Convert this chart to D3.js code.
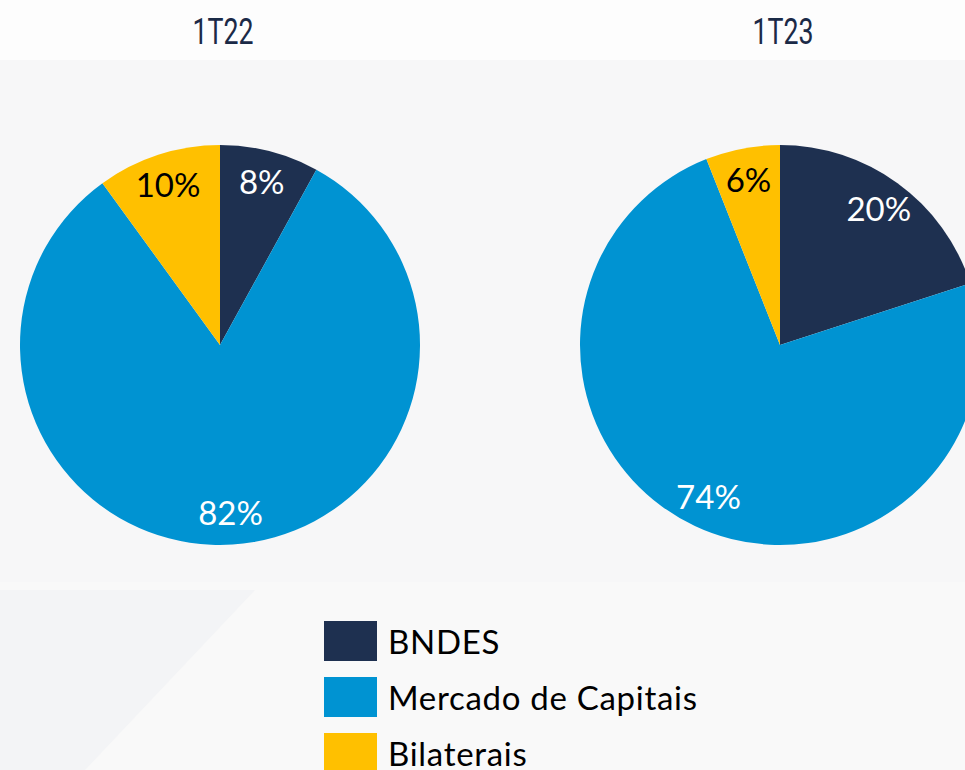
<!DOCTYPE html>
<html>
<head>
<meta charset="utf-8">
<script src="https://cdn.jsdelivr.net/npm/d3@7/dist/d3.min.js"></script>
<style>
html,body{margin:0;padding:0;background:#f7f7f8;overflow:hidden;}
svg{display:block;}
</style>
</head>
<body>
<svg id="chart" width="965" height="770"></svg>
<script>
(function(){
// data
const categories=['BNDES','Mercado de Capitais','Bilaterais'];
const periods=['1T22','1T23'];
const values1T22=[8,82,10];
const values1T23=[20,74,6];
const sliceColors=['#1e3050','#0093d2','#ffc000'];
const labelColors=['#ffffff','#ffffff','#000000'];

const W=965,H=770,R=200;
const svg=d3.select('#chart');

// background: plain light grey, white title band, faint diagonal at bottom left
svg.append('rect').attr('width',W).attr('height',H).attr('fill','#f7f7f8');
svg.append('rect').attr('width',W).attr('height',60).attr('fill','#fdfdfd');
svg.append('rect').attr('y',582).attr('width',W).attr('height',188).attr('fill','#f9f9f9');
svg.append('path').attr('d','M0,590 L255,590 L85,770 L0,770 Z').attr('fill','#f3f4f6');

const x=d3.scalePoint().domain(periods).range([220,780]);
const color=d3.scaleOrdinal().domain(categories).range(sliceColors);
const txtColor=d3.scaleOrdinal().domain(categories).range(labelColors);

const pie=d3.pie().sort(null).value(d=>d.v);
const arc=d3.arc().innerRadius(0).outerRadius(R);
const labelArc=d3.arc().innerRadius(168).outerRadius(168);

[[periods[0],values1T22],[periods[1],values1T23]].forEach(([p,vals])=>{
  const data=categories.map((c,i)=>({c:c,v:vals[i]}));
  const g=svg.append('g').attr('transform',`translate(${x(p)},345)`);
  g.selectAll('path').data(pie(data)).enter().append('path')
    .attr('d',arc).attr('fill',d=>color(d.data.c));
  g.selectAll('text').data(pie(data)).enter().append('text')
    .attr('transform',d=>`translate(${labelArc.centroid(d)})`)
    .attr('text-anchor','middle').attr('dy','0.36em')
    .attr('font-family','Lato, "Open Sans", sans-serif').attr('font-size',33)
    .attr('fill',d=>txtColor(d.data.c))
    .text(d=>d.data.v+'%');
  svg.append('text').attr('x',x(p)+3).attr('y',44).attr('text-anchor','middle')
    .attr('font-family','Roboto, sans-serif').attr('font-size',37).attr('font-weight',400)
    .attr('fill','#1b2a47').attr('textLength',61).attr('lengthAdjust','spacingAndGlyphs')
    .text(p);
});

// legend
const leg=svg.append('g').attr('transform','translate(324,621)');
const li=leg.selectAll('g').data(categories).enter().append('g')
  .attr('transform',(d,i)=>`translate(0,${i*56})`);
li.append('rect').attr('width',53).attr('height',40).attr('fill',d=>color(d));
li.append('text').attr('x',64).attr('y',33)
  .attr('font-family','Lato, "Open Sans", sans-serif').attr('font-size',33)
  .attr('letter-spacing',0.7).attr('fill','#000')
  .text(d=>d);
})();
</script>
</body>
</html>
